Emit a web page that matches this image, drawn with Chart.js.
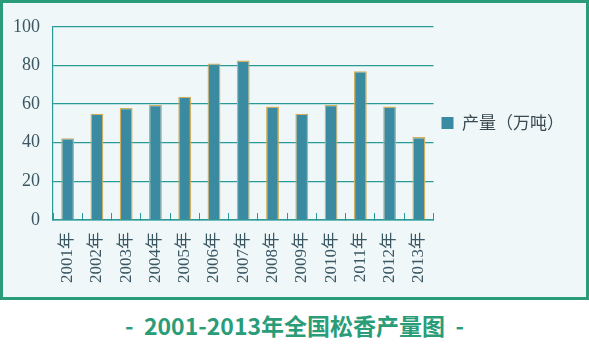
<!DOCTYPE html>
<html>
<head>
<meta charset="utf-8">
<script src="https://cdn.jsdelivr.net/npm/chart.js"></script>
<style>
  html, body { margin: 0; padding: 0; background: #ffffff; }
  #box {
    position: absolute; left: 0; top: 0;
    width: 583px; height: 294px;
    border: 3px solid #2a9c78;
    background: #eff7f9;
  }
  #wrap { position: absolute; left: 0; top: 0; width: 583px; height: 294px; }
  #caption {
    position: absolute; left: 0; top: 300px; width: 589px; height: 51px;
    line-height: 50px; text-align: center;
    font-family: 'Noto Sans CJK SC', sans-serif; font-weight: bold;
    font-size: 23px; color: #2a9c78; white-space: pre;
  }
</style>
</head>
<body>
<div id="box"><div id="wrap"><canvas id="c"></canvas></div></div>
<div id="caption">-  2001-2013年全国松香产量图  -</div>
<script>
"use strict";

const years = ['2001年', '2002年', '2003年', '2004年', '2005年', '2006年', '2007年',
               '2008年', '2009年', '2010年', '2011年', '2012年', '2013年'];
const output = [42.3, 55, 58, 59.5, 63.8, 81, 82.5, 58.7, 55, 59.5, 77, 58.7, 42.9];
const seriesName = '产量（万吨）';

const tealLine = '#2a9a98';
const labelColor = '#3a5763';

const ctx = document.getElementById('c').getContext('2d');
new Chart(ctx, {
    type: 'bar',
    data: {
        labels: years,
        datasets: [{
            label: seriesName,
            data: output,
            backgroundColor: '#3a8aa2',
            borderColor: '#cfb062',
            borderWidth: 1.3,
            barPercentage: 0.44,
            categoryPercentage: 1
        }]
    },
    options: {
        responsive: true,
        maintainAspectRatio: false,
        animation: false,
        layout: { padding: { top: 8, right: 12, bottom: 0, left: 0 } },
        plugins: {
            tooltip: { enabled: false },
            legend: {
                position: 'right',
                align: 'start',
                title: { display: true, text: ' ', font: { size: 12 }, padding: { top: 81, bottom: 0 } },
                labels: {
                    boxWidth: 12,
                    boxHeight: 12,
                    padding: 8,
                    color: '#3a4a52',
                    font: { family: "'Noto Sans CJK SC', sans-serif", size: 17 },
                    generateLabels: function(chart) {
                        const items = Chart.defaults.plugins.legend.labels.generateLabels(chart);
                        items.forEach(function(it) { it.lineWidth = 0; it.strokeStyle = it.fillStyle; });
                        return items;
                    }
                }
            }
        },
        scales: {
            x: {
                offset: true,
                grid: {
                    offset: true,
                    drawOnChartArea: false,
                    drawTicks: true,
                    tickLength: -7,
                    color: tealLine
                },
                border: { display: true, color: tealLine, width: 1.5 },
                ticks: {
                    minRotation: 90,
                    maxRotation: 90,
                    padding: 19,
                    color: labelColor,
                    font: { family: "'Liberation Serif', 'Noto Sans CJK SC', serif", size: 17 }
                },
                afterFit: function(scale) { scale.height = 77; }
            },
            y: {
                min: 0,
                max: 100,
                grid: { color: tealLine, lineWidth: 1.2, drawTicks: false },
                border: { display: true, color: tealLine, width: 1.2 },
                ticks: {
                    stepSize: 20,
                    padding: 13,
                    color: labelColor,
                    font: { family: "'Liberation Serif', serif", size: 18 }
                },
                afterFit: function(scale) { scale.width = 50; }
            }
        }
    }
});
</script>
</body>
</html>
